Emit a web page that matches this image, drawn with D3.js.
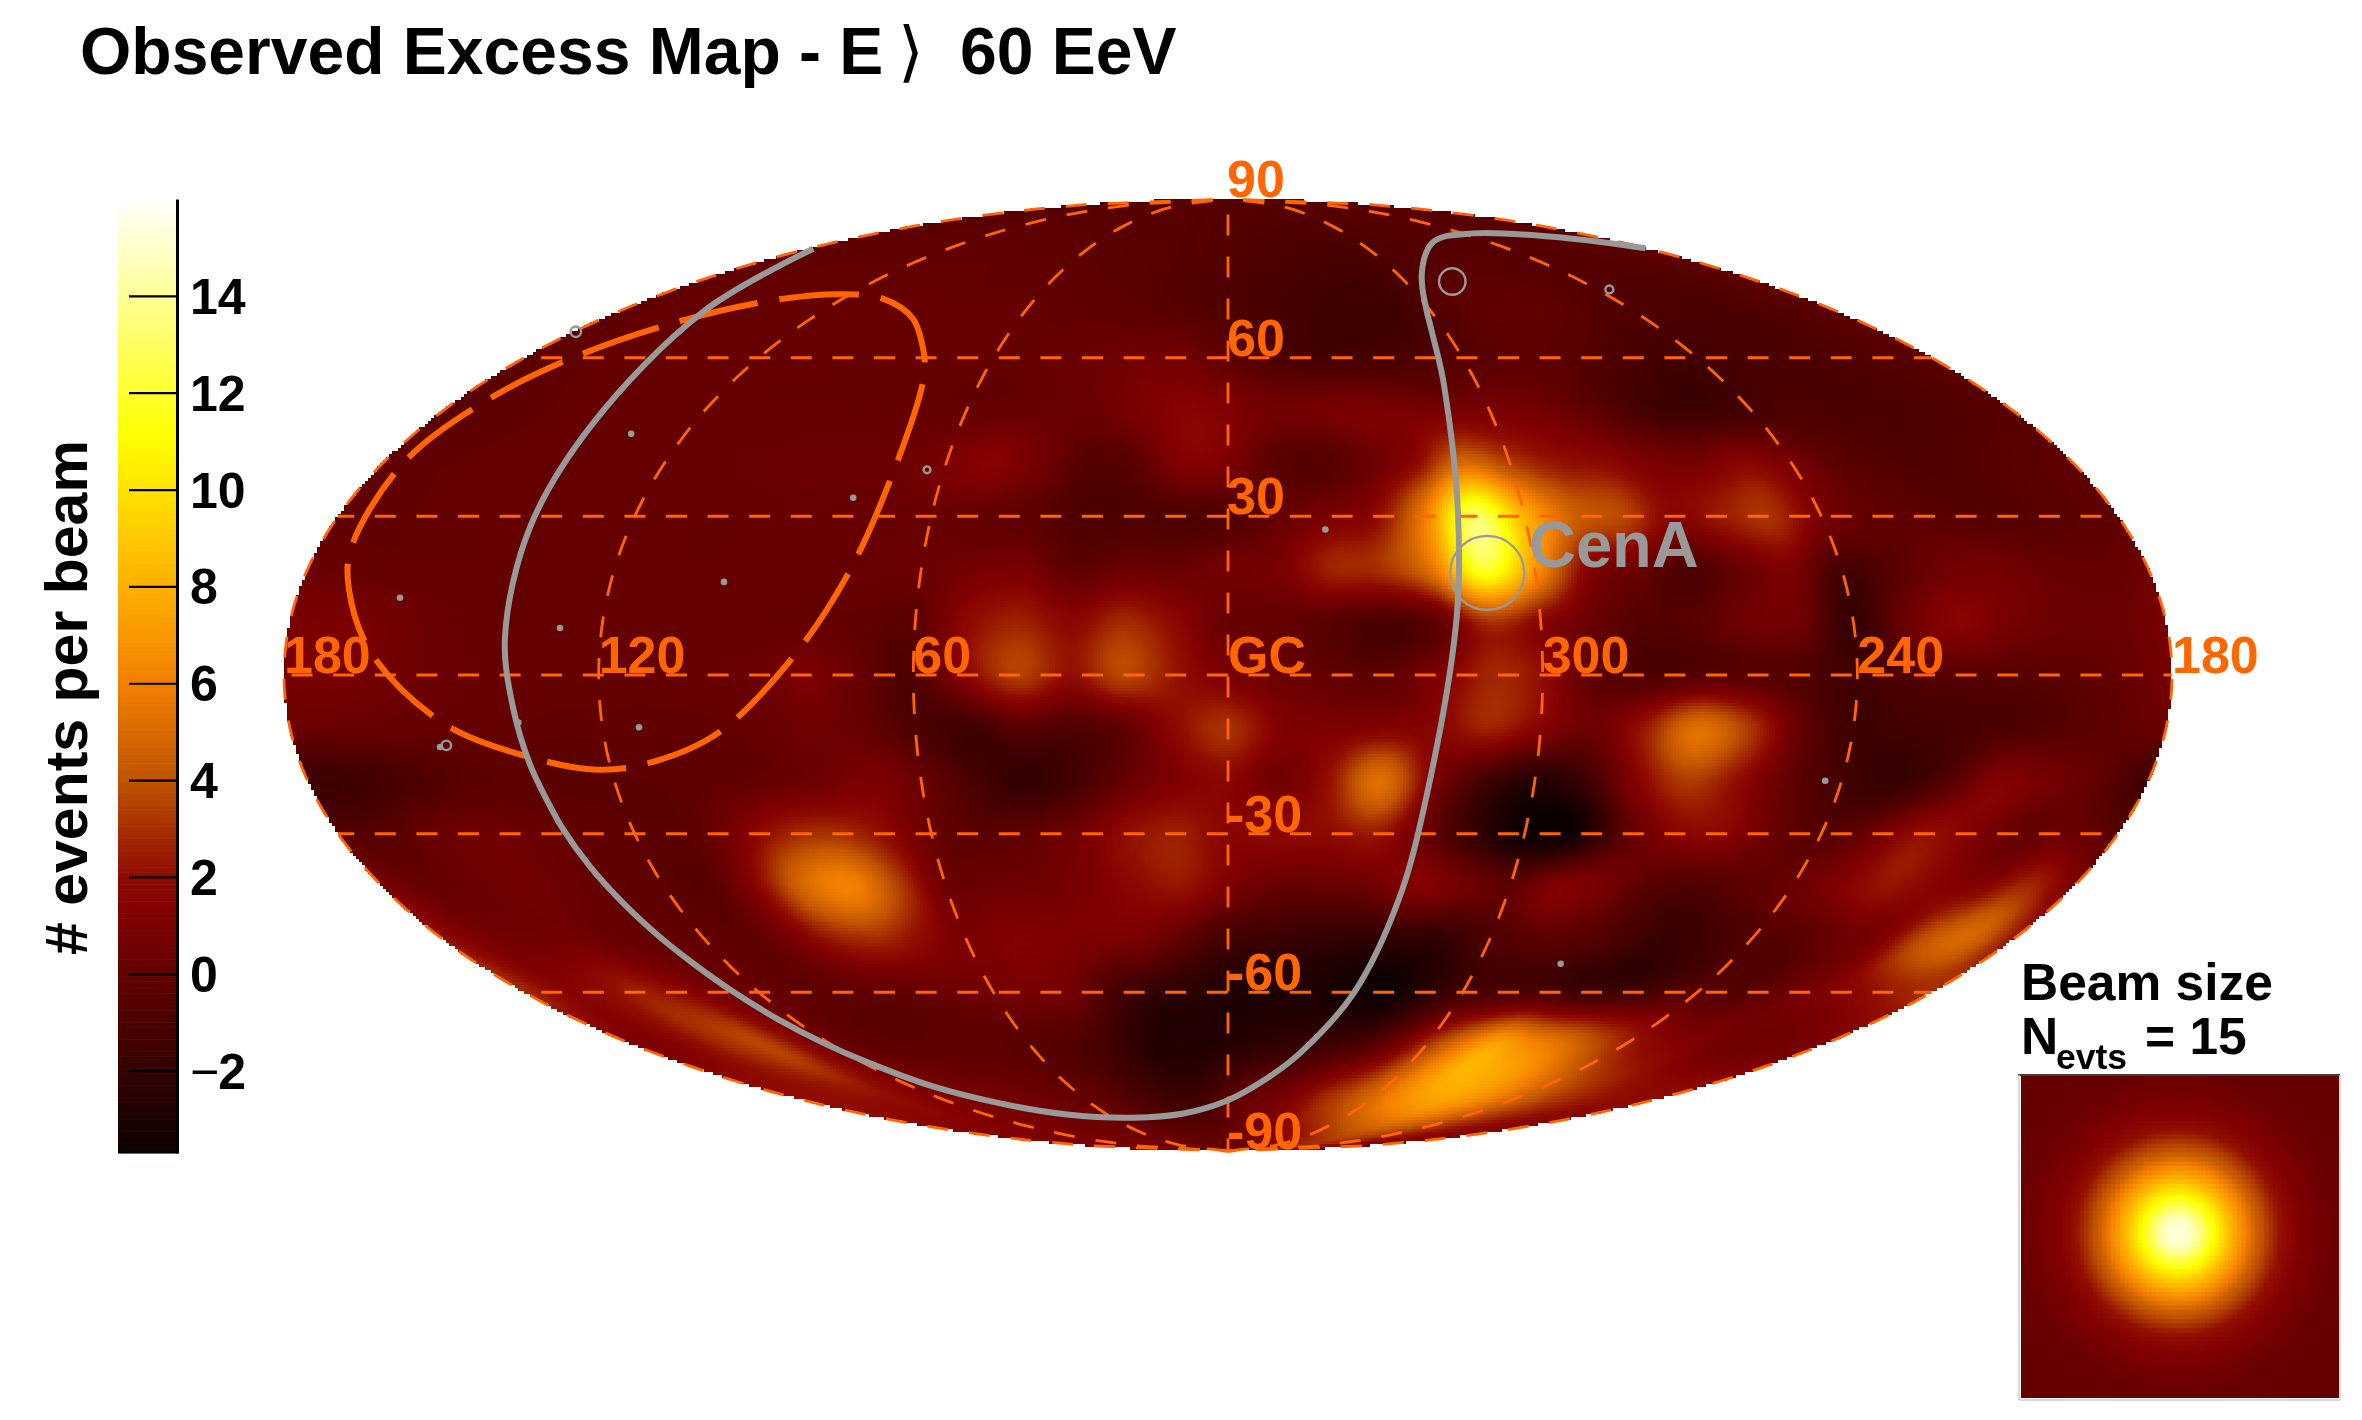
<!DOCTYPE html>
<html>
<head>
<meta charset="utf-8">
<script src="https://cdn.jsdelivr.net/npm/d3@7"></script>
<style>
body{margin:0;background:#fff;}
#wrap{position:relative;width:2362px;height:1420px;overflow:hidden;}
canvas,svg{position:absolute;left:0;top:0;}
text{font-family:"Liberation Sans",Arial,sans-serif;font-weight:bold;}
</style>
</head>
<body>
<div id="wrap">
<canvas id="heat" width="2362" height="1420"></canvas>
<svg id="chart" width="2362" height="1420"></svg>
</div>
<script>
// excess, rows = latitude, columns = longitude (180 on the left, going down to -170)
var gridLat = [90,80,70,60,50,40,30,20,10,0,-10,-20,-30,-40,-50,-60,-70,-80,-90]
var gridLon = [180,170,160,150,140,130,120,110,100,90,80,70,60,50,40,30,20,10,0,-10,-20,-30,-40,-50,-60,-70,-80,-90,-100,-110,-120,-130,-140,-150,-160,-170]
var excessRows = [
[-.6,-.6,-.6,-.6,-.6,-.6,-.6,-.6,-.6,-.6,-.6,-.6,-.6,-.6,-.6,-.6,-.6,-.6,-.6,-.6,-.6,-.6,-.6,-.6,-.6,-.6,-.6,-.6,-.6,-.6,-.6,-.6,-.6,-.6,-.6,-.6],
[-.3,-.2,-.2,-.1,-.1,-.1,-.1,-.1,-.1,-.1,-.2,-.2,-.3,-.4,-.5,-.5,-.6,-.6,-.7,-.8,-.9,-1,-1.1,-1.1,-1,-.8,-.7,-.6,-.6,-.6,-.6,-.6,-.6,-.5,-.5,-.4],
[-.3,0,0,0,0,0,0,0,0,0,0,0,0,-.1,-.2,-.3,-.5,-.7,-.9,-1.1,-1.3,-1.5,-1.6,-1.5,-.9,-.3,-.1,-.1,-.3,-.6,-.8,-.9,-1,-1,-.8,-.5],
[-.4,-.2,0,0,0,0,0,0,0,0,0,0,0,0,.2,.4,.6,.5,-.2,-.8,-1.2,-1.3,-1.2,-.9,-.6,-.3,-.3,-.6,-1,-1.4,-1.4,-1.2,-1.1,-1,-.8,-.6],
[-.5,-.3,-.1,0,0,0,0,0,0,0,0,0,0,.1,.2,.3,1,1.5,1.2,.6,.7,1,.9,.8,.9,.7,.1,-.8,-1.5,-1.6,-1.2,-.9,-1,-1,-.9,-.7],
[-.2,-.1,0,0,0,0,0,.1,.2,.3,.3,.4,.9,1.5,.6,-.6,-.4,1.2,1,-.4,-.6,.3,1.8,5,3.4,2.2,1.8,1,.8,1.6,.8,-.3,-.7,-.8,-.6,-.4],
[-.2,-.1,0,0,0,0,0,0,0,.1,.1,.1,.2,0,-.3,-.9,-.9,-.9,-.8,0,.9,1.8,6,13,8,4.5,3.6,1.5,2.4,3,.8,-.1,-.3,-.6,-.6,-.4],
[.3,.1,0,0,0,0,0,0,0,.1,.1,.2,.3,.7,.9,-.2,.3,.2,.6,.9,2.6,3,5.5,12,7,1.6,.3,-.9,.2,1,-1.2,-.5,.5,.7,.2,0],
[.8,1,.6,.2,0,0,0,0,0,0,0,-.1,-.3,1.8,2.6,1.7,2.8,1.7,.2,0,-.5,-1,-.2,3,1.6,.2,-.6,-.4,.5,.4,-2,.3,1.5,.8,.3,.3],
[.7,.8,.5,.3,.1,0,0,0,.1,.3,.9,0,-.9,1.6,3.4,2,3.6,2.2,.9,.3,-.1,-.3,1,2.7,2,-.3,-.9,-.6,-.5,-.9,-1.5,-.8,-.5,-.5,-.3,0],
[.2,.2,.1,0,0,-.1,-.1,-.1,-.1,.1,.5,.1,-.9,-1.5,-.5,-.8,-.1,1.8,3,1.3,1.1,1.3,1.5,2.6,1.4,.4,2.3,5.2,3.2,0,-1.6,-1.4,-1.2,-.9,-.6,-.2],
[-1.5,-1.5,-1,-.5,-.3,-.4,-.4,-.3,-.2,.1,.5,1,.2,-1.1,-2,-1.3,.1,1.2,1.6,.6,2.2,5.2,1.1,-1.3,-2.6,-1.6,1.4,3.3,1.9,-.1,-1.4,-1.9,-.8,1.2,.7,-.1],
[-.5,-.5,.2,.5,.2,-.1,-.3,-.4,.8,2.5,3,2,.2,-.4,-.1,.6,2,2.5,1.6,1.7,1.8,2.3,.2,-2,-3.6,-3.4,-.4,1.4,1.6,.2,-.6,.3,2,1.3,0,.3],
[1,.1,.3,.6,.3,-.1,-.3,-.5,1.6,4.9,6,3.4,.4,.4,.5,1,1.7,2.2,1,.1,.1,.4,1.3,.6,-.2,1.2,.7,-.6,-.8,-.3,.2,1.2,2.2,1.5,1.4,2.8],
[2.2,.9,.6,.7,.2,0,-.1,-.2,.8,2.4,2.8,1.8,.9,1.3,1.2,1,.8,-.3,-1.5,-1.7,-2,-2.2,-2.2,-2,-1,-.4,-.5,-1.1,-1.9,-1.5,-.8,-.5,.3,1.2,4,4.8],
[2.8,1.5,1.8,2.5,1.8,.7,.2,-.2,-.2,-.1,0,.3,.6,.7,.5,-1,-2,-2.4,-2.8,-2.9,-2.9,-3.3,-3.6,-2.5,-1.3,-1,-1,-1.5,-1.5,-1,-.4,-.6,.1,.9,1.6,2.4],
[1,1.2,2,3,3.6,2,.5,-.1,-.3,-.3,-.2,-.3,-.5,-.7,-1.1,-2,-2.8,-2.8,-2.6,-2.2,-2,-1.5,-1,.5,3,5.5,7.5,6.5,5.5,4,2.6,1.6,1.2,.6,.5,.7],
[2,2,2,2,2,1.5,1.2,1,.8,.6,.4,.2,0,-.2,-.9,-1.3,-1.6,-1.5,-.6,.3,.6,1.5,2.8,3.8,5,6.3,7.2,7.5,7,6,4.8,3.8,3,2.4,2,1.8],
[.9,.9,.9,.8,.8,.7,.7,.6,.6,.5,.5,.4,.4,.3,.3,.2,.2,.1,.1,.3,.5,.8,1,1.3,1.6,1.9,2.2,2.4,2.4,2.3,2.1,1.8,1.6,1.4,1.2,1]
]

// colour bar
var colorStops = [-3.8,1.2,2,4,6,8,11.1,16]
var colorValues = ["#0a0000","#800000","#8e0c00","#c05400","#f38000","#ffb000","#ffff00","#ffffff"]
var barTicks = [-2,0,2,4,6,8,10,12,14]

// grid lines
var gridLats = [-60,-30,0,30,60]
var gridLons = [-180,-120,-60,0,60,120,180]
var lonLabels = [[180,"180"],[120,"120"],[60,"60"],[0,"GC"],[-60,"300"],[-120,"240"],[-180,"180"]]
var latLabels = [90,60,30,-30,-60,-90]

// grey exposure boundary, read point by point
var edgeLon = [177.7,155,142.6,140,138.3,136.6,135.5,134.6,134,132.9,131.4,129.8,128.2,126.4,124.2,121.6,118.4,111.9,99.7,79.9,49.1,21.8,0,-13.9,-22.6,-32.3,-36.9,-39.2,-44,-47,-52,-69,-94.5,-125,-163,-179.8]
var edgeLat = [80.6,68.8,47.3,27.9,7.1,-6.6,-17,-23.6,-29.3,-36.2,-43.2,-49.5,-54.5,-59.9,-65.2,-69.6,-73.1,-77.8,-81,-83.1,-83.7,-82.9,-80.4,-76.3,-71.5,-60,-42.6,-22.4,11.4,33,55,76,81.9,83.5,82.6,80.7]

// orange closed region
var regionLon = [77.6,90.4,107.8,124,141,156,166.7,172.9,175.6,173.5,170.5,163.5,150,133.5,122.7,113.4,98.5,83.7,74.3,70.6,73.8,77.6]
var regionLat = [60,67.3,71.2,72,70.8,67,60.8,52.3,40.3,24.1,16.4,4.1,-9.4,-16,-17.9,-16.9,-11.3,2.5,18.7,36.5,55.4,60]

// small sources
var dotLon = [132,77,98,160,128,113,136,152,-19.5,-116.8,-79.8]
var dotLat = [45.6,33.5,17.6,14.6,8.9,-9.9,-9,-13.6,27.5,-20,-54.6]
var ringLon = [-50.6,-76,179.5,150.7,63.6,-124]
var ringLat = [19.3,74.4,64.9,-13.3,38.8,72.9]
var ringDeg = [7,2.5,1,.9,.65,.75]

// beam inset profile, radius as a fraction of the half width
var beamRadius = [0,.1,.2,.34,.49,.64,.75,.9,1,1.5]
var beamValue = [15.5,14.6,11.8,8,4.5,2.1,1.3,.6,.2,-.1]

var map = {cx:1228,cy:675,a:944,b:476}

var color = d3.scaleLinear().domain(colorStops).range(colorValues).clamp(true)
var latScale = d3.scaleLinear().domain([-90,90]).range([map.cy+map.b,map.cy-map.b])
var lonScale = d3.scaleLinear().domain([180,-180]).range([-map.a,map.a])
var barScale = d3.scaleLinear().domain([-3.7,16]).range([1153,199])

var squeeze = function(lat)
{
    return Math.sqrt(Math.max(0,1-(lat/90)*(lat/90)))
}
var project = function(d)
{
    return [map.cx+lonScale(d[0])*squeeze(d[1]),latScale(d[1])]
}
var zipped = function(lons,lats)
{
    return lons.map(function(l,i){return [l,lats[i]]})
}

var catmull = function(p0,p1,p2,p3,t)
{
    return .5*(2*p1+(p2-p0)*t+(2*p0-5*p1+4*p2-p3)*t*t+(3*p1-p0-3*p2+p3)*t*t*t)
}
var lookup = d3.scaleLinear().domain([gridLat[0],gridLat[gridLat.length-1]]).range([0,gridLat.length-1])
var lookupLon = d3.scaleLinear().domain([gridLon[0],gridLon[1]]).range([0,1])

var sample = function(lon,lat)
{
    var n = gridLon.length
    var m = gridLat.length
    var cf = lookupLon(lon)
    var rf = lookup(lat)
    var c = Math.floor(cf)
    var r = Math.min(Math.floor(rf),m-2)
    var rowVals = []
    for (var j=-1;j<=2;j++)
    {
        var row = excessRows[Math.max(0,Math.min(m-1,r+j))]
        rowVals.push(catmull(row[(c-1+2*n)%n],row[(c+n)%n],row[(c+1)%n],row[(c+2)%n],cf-c))
    }
    return catmull(rowVals[0],rowVals[1],rowVals[2],rowVals[3],rf-r)
}

var drawHeat = function()
{
    var ctx = document.getElementById("heat").getContext("2d")
    var cell = 3
    for (var py=map.cy-map.b;py<map.cy+map.b;py+=cell)
    {
        var lat = latScale.invert(py+cell/2)
        var f = squeeze(lat)
        for (var px=map.cx-map.a;px<map.cx+map.a;px+=cell)
        {
            var u = px+cell/2-map.cx
            if (Math.abs(u)>map.a*f) continue
            ctx.fillStyle = color(sample(lonScale.invert(u/f),lat))
            ctx.fillRect(px,py,cell,cell)
        }
    }
    // beam inset
    var box = {x:2021,y:1076,w:318,h:322,cx:2178,cy:1233,half:160}
    var beam = d3.scaleLinear().domain(beamRadius).range(beamValue).clamp(true)
    var step = 4.5
    for (var by=box.y;by<box.y+box.h;by+=step)
    {
        for (var bx=box.x;bx<box.x+box.w;bx+=step)
        {
            var d = Math.hypot(bx+step/2-box.cx,by+step/2-box.cy)/box.half
            ctx.fillStyle = color(beam(d))
            ctx.fillRect(bx,by,Math.min(step+.5,box.x+box.w-bx),Math.min(step+.5,box.y+box.h-by))
        }
    }
}

var drawGrid = function(svg)
{
    var line = d3.line()
    var g = svg.append("g").attr("fill","none").attr("stroke","#ff6600")
    // parallels share one dash phase across the page
    gridLats.forEach(function(lat)
    {
        var x0 = map.cx-map.a*squeeze(lat)
        var x1 = map.cx+map.a*squeeze(lat)
        g.append("line")
            .attr("x1",x0).attr("x2",x1)
            .attr("y1",latScale(lat)).attr("y2",latScale(lat))
            .attr("stroke-width",3)
            .attr("stroke-dasharray","21 20.6")
            .attr("stroke-dashoffset",((x0-915.6)%41.6+41.6)%41.6)
    })
    gridLons.forEach(function(lon)
    {
        var pts = d3.range(90,-90.5,-1).map(function(lat){return project([lon,lat])})
        g.append("path")
            .attr("d",line(pts))
            .attr("stroke-width",2.8)
            .attr("stroke-dasharray","21 21")
            .attr("stroke-dashoffset",26.6)
    })
}

var drawOverlays = function(svg)
{
    svg.append("path")
        .attr("d",d3.line().curve(d3.curveCatmullRom)(zipped(regionLon,regionLat).map(project)))
        .attr("fill","none").attr("stroke","#ff6600").attr("stroke-width",6)
        .attr("stroke-dasharray","80 22")

    svg.append("path")
        .attr("d",d3.line().curve(d3.curveCatmullRom)(zipped(edgeLon,edgeLat).map(project)))
        .attr("fill","none").attr("stroke","#999999").attr("stroke-width",6)

    svg.append("g").selectAll("circle")
        .data(zipped(dotLon,dotLat))
        .enter()
        .append("circle")
        .attr("cx",function(d){return project(d)[0]})
        .attr("cy",function(d){return project(d)[1]})
        .attr("r",3.3)
        .attr("fill","#999999")

    svg.append("g").selectAll("circle")
        .data(zipped(ringLon,ringLat))
        .enter()
        .append("circle")
        .attr("cx",function(d){return project(d)[0]})
        .attr("cy",function(d){return project(d)[1]})
        .attr("r",function(d,i){return ringDeg[i]*5.29})
        .attr("fill","none")
        .attr("stroke","#999999")
        .attr("stroke-width",2.4)
}

var drawLabels = function(svg)
{
    svg.append("g").selectAll("text")
        .data(lonLabels)
        .enter()
        .append("text")
        .attr("x",function(d){return project([d[0],0])[0]})
        .attr("y",latScale(0)-2)
        .attr("font-size",52)
        .attr("fill","#ff6600")
        .text(function(d){return d[1]})

    svg.append("g").selectAll("text")
        .data(latLabels)
        .enter()
        .append("text")
        .attr("x",map.cx-1)
        .attr("y",function(d){return latScale(d)-2})
        .attr("font-size",52)
        .attr("fill","#ff6600")
        .text(function(d){return d})

    svg.append("text")
        .attr("x",1529).attr("y",567)
        .attr("font-size",65)
        .attr("fill","#999999")
        .text("CenA")
}

var drawBar = function(svg)
{
    var steps = d3.range(-3.7,16,.05)
    svg.append("g").selectAll("rect")
        .data(steps)
        .enter()
        .append("rect")
        .attr("x",118)
        .attr("width",60)
        .attr("y",function(d){return barScale(d+.05)})
        .attr("height",function(d){return barScale(d)-barScale(d+.05)+.6})
        .attr("fill",function(d){return color(d)})

    var axis = d3.axisRight(barScale)
        .tickValues(barTicks)
        .tickSizeInner(-48)
        .tickSizeOuter(0)
        .tickPadding(13)
    var g = svg.append("g")
        .attr("class","axis")
        .attr("transform","translate(177,0)")
        .call(axis)
    g.attr("font-family",null).attr("font-size",null)
    g.select(".domain").attr("stroke","#000").attr("stroke-width",3)
    g.selectAll(".tick line").attr("stroke","#000").attr("stroke-width",2.2)
    g.selectAll(".tick text")
        .attr("font-size",50)
        .attr("fill","#000")
        .attr("dy",".35em")
    g.selectAll(".tick text").filter(function(d){return d<0})
        .text(null)
        .call(function(t)
        {
            t.append("tspan").attr("font-weight","normal").text("\u2212")
            t.append("tspan").attr("dx",-1).text("2")
        })

    svg.append("text")
        .attr("transform","translate(87,955) rotate(-90)")
        .attr("font-size",59)
        .attr("fill","#000")
        .text("# events per beam")
}

var drawTitles = function(svg)
{
    var title = svg.append("text")
        .attr("x",80).attr("y",74)
        .attr("font-size",66)
        .attr("fill","#000")
    title.append("tspan").text("Observed Excess Map - E")
    title.append("tspan")
        .attr("x",898).attr("font-size",66).attr("font-weight","normal")
        .style("font-family","'DejaVu Sans'")
        .text("\u27e9")
    title.append("tspan").attr("x",960).text("60 EeV")

    svg.append("text").attr("x",2021).attr("y",1000).attr("font-size",51.5).attr("fill","#000").text("Beam size")
    svg.append("text").attr("x",2021).attr("y",1054).attr("font-size",51.5).attr("fill","#000").text("N")
    svg.append("text").attr("x",2056).attr("y",1069).attr("font-size",35.5).attr("fill","#000").text("evts")
    svg.append("text").attr("x",2145).attr("y",1054).attr("font-size",51.5).attr("fill","#000").text("= 15")

    // inset frame
    svg.append("line").attr("x1",2018).attr("x2",2340).attr("y1",1075).attr("y2",1075).attr("stroke","#000").attr("stroke-width",1.5)
    svg.append("line").attr("x1",2019).attr("x2",2019).attr("y1",1075).attr("y2",1400).attr("stroke","#ccc").attr("stroke-width",1.5)
    svg.append("line").attr("x1",2019).attr("x2",2340).attr("y1",1400).attr("y2",1400).attr("stroke","#ccc").attr("stroke-width",1.5)
    svg.append("line").attr("x1",2340).attr("x2",2340).attr("y1",1075).attr("y2",1400).attr("stroke","#ccc").attr("stroke-width",1.5)
}

var initGraph = function()
{
    var svg = d3.select("#chart")
    drawHeat()
    drawGrid(svg)
    drawOverlays(svg)
    drawLabels(svg)
    drawBar(svg)
    drawTitles(svg)
}

initGraph()
</script>
</body>
</html>
